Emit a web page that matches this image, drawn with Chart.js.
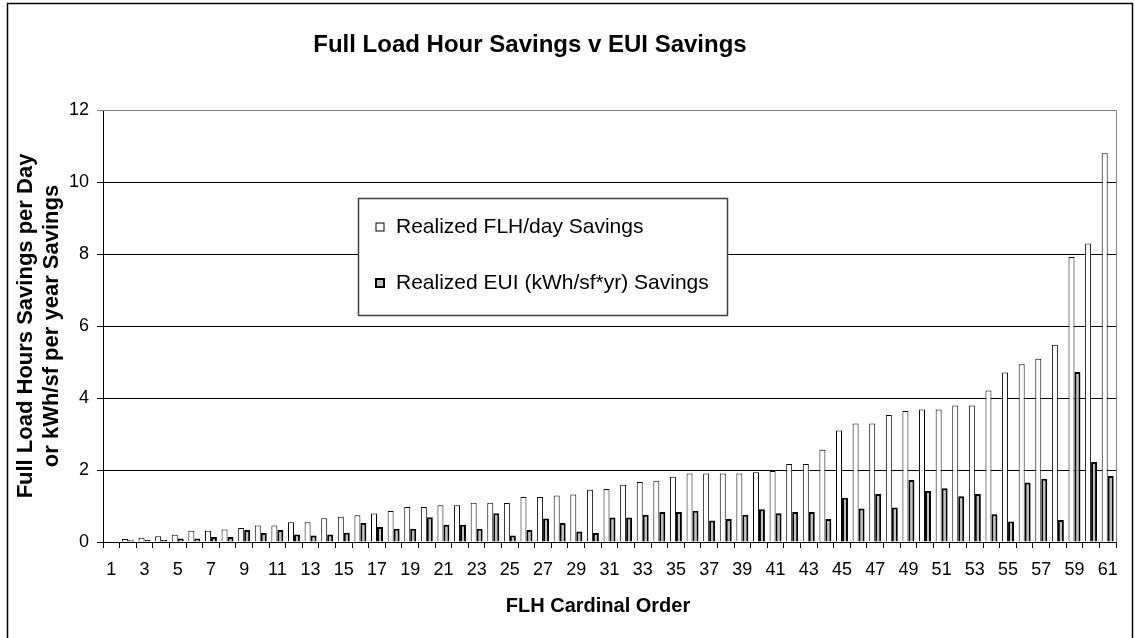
<!DOCTYPE html>
<html>
<head>
<meta charset="utf-8">
<script src="https://cdn.jsdelivr.net/npm/chart.js@4"></script>
<style>
  html, body { margin: 0; padding: 0; background: #fff; }
  #wrap { width: 1135px; height: 638px; }
</style>
</head>
<body>
<div id="wrap"><canvas id="grafica" width="1135" height="638"></canvas></div>
<script>
// datos
const tituloGrafico = "Full Load Hour Savings v EUI Savings";
const tituloEjeX = "FLH Cardinal Order";
const tituloEjeY = ["Full Load Hours Savings per Day", "or kWh/sf per year Savings"];
const etiquetaFLH = "Realized FLH/day Savings";
const etiquetaEUI = "Realized EUI (kWh/sf*yr) Savings";

const categorias = [];
for (let i = 1; i <= 61; i++) categorias.push(String(i));

const ahorroFLH = [
  0.00, 0.08, 0.12, 0.16, 0.20, 0.31, 0.31, 0.35, 0.39, 0.46,
  0.46, 0.55, 0.55, 0.66, 0.70, 0.74, 0.79, 0.86, 0.97, 0.97,
  1.02, 1.02, 1.09, 1.09, 1.08, 1.25, 1.25, 1.29, 1.32, 1.45,
  1.47, 1.59, 1.67, 1.70, 1.81, 1.90, 1.90, 1.90, 1.90, 1.94,
  1.97, 2.17, 2.17, 2.56, 3.10, 3.29, 3.29, 3.53, 3.64, 3.68,
  3.68, 3.79, 3.79, 4.21, 4.71, 4.94, 5.09, 5.48, 7.92, 8.29,
  10.80
];
const ahorroEUI = [
  0.00, 0.05, 0.06, 0.06, 0.10, 0.10, 0.14, 0.14, 0.33, 0.25,
  0.33, 0.21, 0.18, 0.21, 0.26, 0.53, 0.42, 0.37, 0.37, 0.69,
  0.48, 0.48, 0.37, 0.80, 0.18, 0.33, 0.65, 0.53, 0.29, 0.25,
  0.68, 0.68, 0.76, 0.83, 0.83, 0.87, 0.60, 0.64, 0.76, 0.91,
  0.80, 0.83, 0.83, 0.64, 1.23, 0.93, 1.33, 0.96, 1.72, 1.42,
  1.49, 1.27, 1.33, 0.77, 0.57, 1.65, 1.76, 0.61, 4.72, 2.22,
  1.83
];
const ticksY = [0, 2, 4, 6, 8, 10, 12];

const fuente = "'Liberation Sans', Arial, sans-serif";

// marco exterior, títulos y bordes grises del área de trazado
const marcoPlugin = {
  id: 'marco',
  beforeDraw(chart) {
    const c = chart.ctx;
    c.save();
    c.fillStyle = '#fff';
    c.fillRect(0, 0, chart.width, chart.height);
    c.strokeStyle = '#000';
    c.lineWidth = 1.5;
    c.strokeRect(7.5, 3.5, 1125, 660);
    c.restore();
  },
  afterDraw(chart) {
    const c = chart.ctx;
    c.save();
    c.fillStyle = '#000';
    c.textAlign = 'center';
    c.textBaseline = 'middle';
    c.font = "bold 24px " + fuente;
    c.fillText(tituloGrafico, 530, 45);
    c.font = "bold 20px " + fuente;
    c.fillText(tituloEjeX, 598, 606);
    c.restore();
  },
  beforeDatasetsDraw(chart) {
    const c = chart.ctx;
    const a = chart.chartArea;
    c.save();
    c.strokeStyle = '#808080';
    c.lineWidth = 1;
    c.beginPath();
    c.moveTo(a.left, Math.round(a.top) + 0.5);
    c.lineTo(Math.round(a.right) + 0.5, Math.round(a.top) + 0.5);
    c.lineTo(Math.round(a.right) + 0.5, a.bottom);
    c.stroke();
    c.restore();
  }
};

// leyenda en caja dentro del área de trazado
const leyendaPlugin = {
  id: 'leyendaCaja',
  afterDraw(chart) {
    const c = chart.ctx;
    const x = 358, y = 198, w = 369, h = 117;
    c.save();
    c.fillStyle = '#fff';
    c.fillRect(x, y, w, h);
    c.strokeStyle = '#404040';
    c.lineWidth = 1.5;
    c.strokeRect(x + 0.5, y + 0.5, w, h);
    c.font = "21px " + fuente;
    c.textBaseline = 'middle';
    c.textAlign = 'left';
    const filas = [227, 283];
    chart.data.datasets.forEach((ds, i) => {
      const cy = filas[i];
      c.fillStyle = ds.backgroundColor;
      c.fillRect(376, cy - 4, 8, 8);
      c.strokeStyle = '#000';
      c.lineWidth = i === 0 ? 1 : 2;
      c.strokeRect(376, cy - 4, 8, 8);
      c.fillStyle = '#000';
      c.fillText(ds.label, 396, cy);
    });
    c.restore();
  }
};

const ctx = document.getElementById('grafica').getContext('2d');
new Chart(ctx, {
  type: 'bar',
  data: {
    labels: categorias,
    datasets: [
      {
        label: etiquetaFLH,
        data: ahorroFLH,
        backgroundColor: '#ffffff',
        borderColor: '#000000',
        borderWidth: 1,
        barPercentage: 1,
        categoryPercentage: 0.72
      },
      {
        label: etiquetaEUI,
        data: ahorroEUI,
        backgroundColor: '#c0c0c0',
        borderColor: '#000000',
        borderWidth: 2,
        barPercentage: 1,
        categoryPercentage: 0.72
      }
    ]
  },
  options: {
    responsive: false,
    animation: false,
    layout: { padding: { left: 8, right: 19, top: 110, bottom: 0 } },
    plugins: {
      legend: { display: false },
      title: { display: false },
      tooltip: { enabled: false }
    },
    scales: {
      x: {
        offset: true,
        grid: { offset: true, drawOnChartArea: false, color: '#000', tickLength: 6 },
        border: { color: '#000', width: 1 },
        ticks: {
          autoSkip: false,
          maxRotation: 0,
          color: '#000',
          padding: 11,
          font: { family: fuente, size: 18 },
          callback: function (v, i) { return i % 2 === 0 ? this.getLabelForValue(v) : ''; }
        },
        afterFit(scale) { scale.height = 96; }
      },
      y: {
        min: 0,
        max: 12,
        afterBuildTicks(scale) { scale.ticks = ticksY.map(v => ({ value: v })); },
        grid: {
          color: (c) => c.tick && c.tick.value === 12 ? '#808080' : '#000',
          tickLength: 6
        },
        border: { color: '#000', width: 1 },
        ticks: {
          color: '#000',
          padding: 8,
          font: { family: fuente, size: 18 }
        },
        title: {
          display: true,
          text: tituloEjeY,
          color: '#000',
          font: { family: fuente, size: 22, weight: 'bold', lineHeight: 1.18 },
          padding: { top: 5, bottom: 0 }
        },
        afterFit(scale) { scale.width = 95; }
      }
    }
  },
  plugins: [marcoPlugin, leyendaPlugin]
});
</script>
</body>
</html>
